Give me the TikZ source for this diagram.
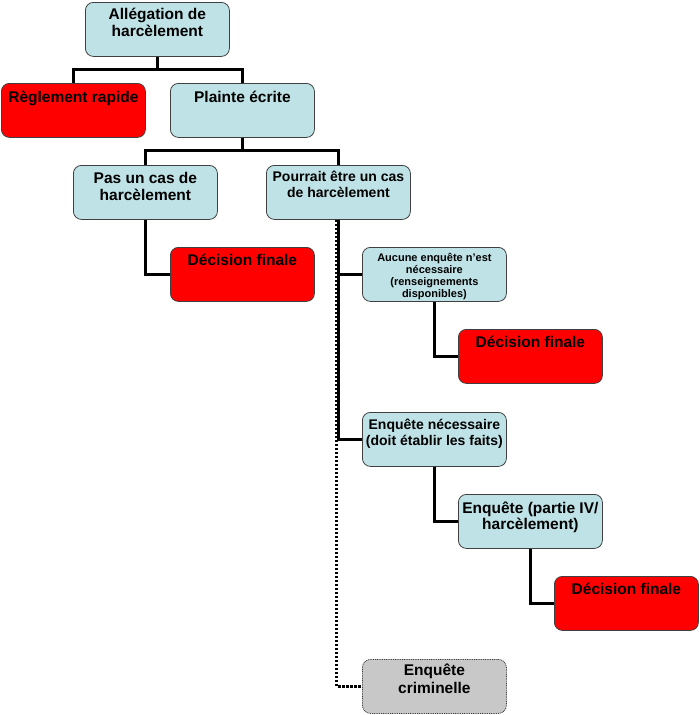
\documentclass[tikz,border=0pt]{standalone}
\usepackage{fontspec}
\setmainfont{Liberation Sans}
\usetikzlibrary{positioning}
\definecolor{paleblue}{RGB}{190,226,230}
\definecolor{alarm}{RGB}{255,0,0}
\definecolor{crimgray}{RGB}{200,200,200}

\begin{document}
\begin{tikzpicture}[x=1pt,y=-1pt,
  box/.style={draw=black!75, line width=0.8pt, rounded corners=8pt, anchor=north west,
    minimum width=144pt, minimum height=54pt, inner sep=0pt},
  bluebox/.style={box, fill=paleblue},
  redbox/.style={box, fill=alarm},
  graybox/.style={box, fill=crimgray, dash pattern=on 1pt off 0.8pt},
  lbl/.style={anchor=base, align=center, inner sep=0pt, font=\bfseries\fontsize{15.5}{17}\selectfont},
  link/.style={line width=3pt},
  ]
\useasboundingbox (0,0) rectangle (700,715);
% boxes
\node[bluebox] (alleg) at (85,2) {};
\node[redbox] (rapide) at (1,83) {};
\node[bluebox] (plainte) at (170,83) {};
\node[bluebox] (pascas) at (73,165) {};
\node[bluebox] (pourrait) at (266,165) {};
\node[redbox] (dec1) at (170,247) {};
\node[bluebox] (aucune) at (362,247) {};
\node[redbox] (dec2) at (458,329) {};
\node[bluebox] (necess) at (362,412) {};
\node[bluebox] (partie) at (458,494) {};
\node[redbox] (dec3) at (554,576) {};
\node[graybox] (crim) at (362,659) {};
% labels (base = last line)
\node[lbl] (talleg) at ([yshift=-34pt]alleg.north) {Allégation de\\harcèlement};
\node[lbl] (trapide) at ([yshift=-19pt]rapide.north) {Règlement rapide};
\node[lbl] (tplainte) at ([yshift=-19pt]plainte.north) {Plainte écrite};
\node[lbl] (tpascas) at ([yshift=-35pt]pascas.north) {Pas un cas de\\harcèlement};
\node[lbl, font=\bfseries\fontsize{14}{16}\selectfont] (tpourrait) at ([yshift=-32pt]pourrait.north) {Pourrait être un cas\\de harcèlement};
\node[lbl] (tdec1) at ([yshift=-18pt]dec1.north) {Décision finale};
\node[lbl, font=\bfseries\fontsize{11}{12}\selectfont] (taucune) at ([yshift=-50pt]aucune.north) {Aucune enquête n’est\\nécessaire\\(renseignements\\disponibles)};
\node[lbl] (tdec2) at ([yshift=-18pt]dec2.north) {Décision finale};
\node[lbl, font=\bfseries\fontsize{14}{16}\selectfont] (tnecess) at ([yshift=-33pt]necess.north) {Enquête nécessaire\\(doit établir les faits)};
\node[lbl, font=\bfseries\fontsize{15.5}{16}\selectfont] (tpartie) at ([yshift=-35pt]partie.north) {Enquête (partie IV/\\harcèlement)};
\node[lbl] (tdec3) at ([yshift=-18pt]dec3.north) {Décision finale};
\node[lbl, font=\bfseries\fontsize{15.5}{18}\selectfont] (tcrim) at ([yshift=-34pt]crim.north) {Enquête\\criminelle};
% connectors
\draw[link] (alleg.south) -- ++(0,13) -| (rapide.north);
\draw[link] (alleg.south) -- ++(0,13) -| (plainte.north);
\draw[link] (plainte.south) -- ++(0,13) -| (pascas.north);
\draw[link] (plainte.south) -- ++(0,13) -| (pourrait.north);
\draw[link] (pascas.south) |- (dec1.west);
\draw[link, dash pattern=on 2.5pt off 1.5pt] ([xshift=-1.5pt]pourrait.south) |- (crim.west);
\draw[link] (pourrait.south) |- (aucune.west);
\draw[link] (pourrait.south) |- (necess.west);
\draw[link] (aucune.south) |- (dec2.west);
\draw[link] (necess.south) |- (partie.west);
\draw[link] (partie.south) |- (dec3.west);
\end{tikzpicture}
\end{document}
